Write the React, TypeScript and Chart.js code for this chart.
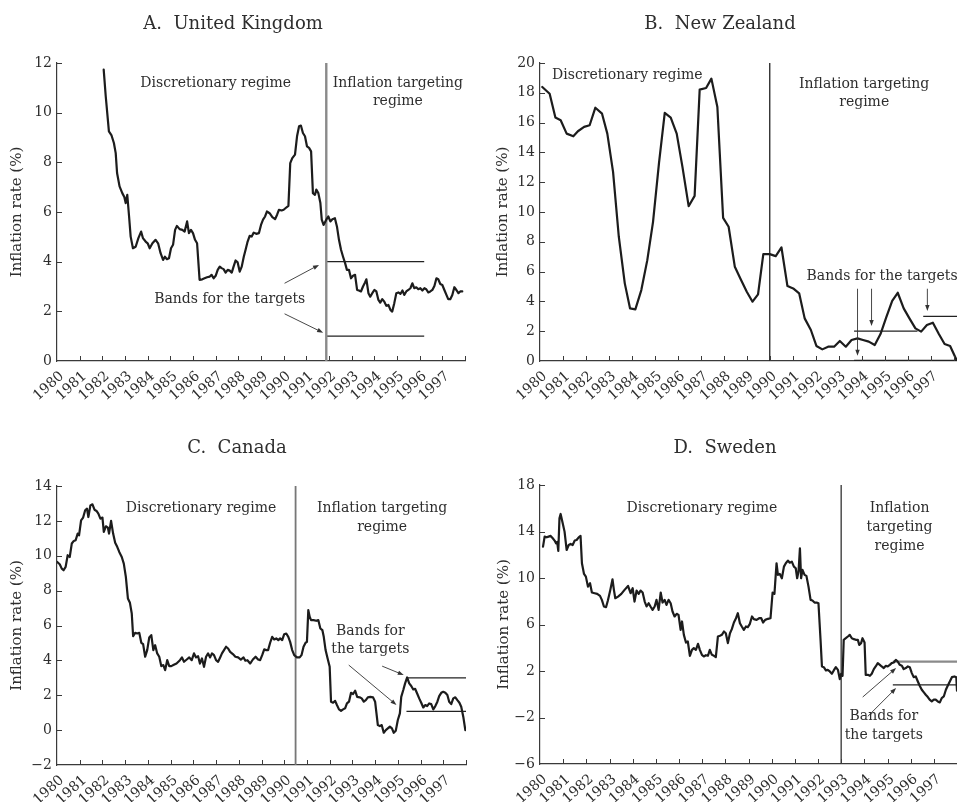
import React, { useEffect, useRef } from 'react';
import { Chart, registerables } from 'chart.js';

Chart.register(...registerables);

const FONT = '"DejaVu Serif", serif';
const INK = '#1c1c1c';
const TEXT = '#2e2e2e';
const AXIS = '#3a3a3a';

// ---------------- shared axis values ----------------
const yearTicks = [1980, 1981, 1982, 1983, 1984, 1985, 1986, 1987, 1988, 1989, 1990, 1991, 1992, 1993, 1994, 1995, 1996, 1997];
const yTitle = 'Inflation rate (%)';

// ---------------- A. United Kingdom ----------------
const ukYears = [
  1982.06, 1982.15, 1982.29, 1982.4, 1982.51, 1982.59, 1982.65, 1982.76, 1982.88, 1982.97,
  1983.03, 1983.1, 1983.18, 1983.25, 1983.35, 1983.47, 1983.59, 1983.71, 1983.79, 1983.91,
  1984.0, 1984.09, 1984.21, 1984.35, 1984.46, 1984.57, 1984.68, 1984.76, 1984.85, 1984.94,
  1985.03, 1985.12, 1985.21, 1985.29, 1985.41, 1985.53, 1985.63, 1985.74, 1985.82, 1985.91,
  1986.0, 1986.09, 1986.18, 1986.24, 1986.29, 1986.41, 1986.51, 1986.62, 1986.74, 1986.82,
  1986.91, 1987.0, 1987.09, 1987.18, 1987.26, 1987.35, 1987.44, 1987.53, 1987.62, 1987.71,
  1987.79, 1987.88, 1987.97, 1988.06, 1988.15, 1988.24, 1988.32, 1988.41, 1988.5, 1988.59,
  1988.68, 1988.79, 1988.91, 1989.0, 1989.09, 1989.18, 1989.26, 1989.38, 1989.5, 1989.62,
  1989.71, 1989.79, 1989.91, 1990.0, 1990.09, 1990.21, 1990.29, 1990.38, 1990.5, 1990.59,
  1990.68, 1990.76, 1990.85, 1990.94, 1991.03, 1991.12, 1991.21, 1991.29, 1991.38, 1991.44,
  1991.53, 1991.62, 1991.68, 1991.76, 1991.88, 1991.97, 1992.06, 1992.15, 1992.26, 1992.35,
  1992.44, 1992.53, 1992.62, 1992.71, 1992.79, 1992.88, 1992.97, 1993.06, 1993.15, 1993.24,
  1993.32, 1993.41, 1993.5, 1993.59, 1993.65, 1993.74, 1993.82, 1993.91, 1994.0, 1994.09,
  1994.18, 1994.26, 1994.35, 1994.44, 1994.53, 1994.62, 1994.71, 1994.79, 1994.88, 1994.97,
  1995.06, 1995.15, 1995.24, 1995.32, 1995.41, 1995.5, 1995.59, 1995.68, 1995.76, 1995.85,
  1995.94, 1996.03, 1996.12, 1996.21, 1996.29, 1996.38, 1996.47, 1996.56, 1996.65, 1996.74,
  1996.82, 1996.91, 1997.0, 1997.09, 1997.18, 1997.26, 1997.35, 1997.44, 1997.53, 1997.62,
  1997.71, 1997.79, 1997.88,
];
const ukRates = [
  11.73, 10.66, 9.25, 9.1, 8.78, 8.37, 7.57, 7.03, 6.76, 6.6,
  6.36, 6.69, 5.82, 5.01, 4.54, 4.6, 4.95, 5.21, 4.95, 4.81,
  4.74, 4.54, 4.74, 4.88, 4.74, 4.34, 4.07, 4.2, 4.1, 4.14,
  4.54, 4.68, 5.28, 5.44, 5.31, 5.28, 5.21, 5.62, 5.15, 5.28,
  5.15, 4.88, 4.74, 3.94, 3.27, 3.29, 3.33, 3.37, 3.4, 3.47,
  3.33, 3.43, 3.67, 3.8, 3.74, 3.7, 3.56, 3.67, 3.64, 3.56,
  3.8, 4.05, 3.97, 3.6, 3.8, 4.2, 4.48, 4.81, 5.04, 5.01,
  5.17, 5.12, 5.15, 5.48, 5.69, 5.82, 6.02, 5.95, 5.79, 5.71,
  5.89, 6.09, 6.06, 6.09, 6.16, 6.25, 7.97, 8.17, 8.31, 9.05,
  9.45, 9.48, 9.18, 9.05, 8.64, 8.58, 8.44, 6.76, 6.69, 6.9,
  6.76, 6.36, 5.69, 5.48, 5.69, 5.82, 5.62, 5.71, 5.75, 5.42,
  4.88, 4.48, 4.2, 3.94, 3.67, 3.67, 3.33, 3.43, 3.47, 2.86,
  2.84, 2.8, 3.0, 3.16, 3.29, 2.73, 2.59, 2.73, 2.86, 2.8,
  2.46, 2.35, 2.49, 2.39, 2.22, 2.26, 2.06, 1.99, 2.33, 2.73,
  2.76, 2.7, 2.84, 2.66, 2.8, 2.86, 2.93, 3.13, 2.93, 2.97,
  2.89, 2.93, 2.84, 2.93, 2.89, 2.76, 2.8, 2.86, 3.02, 3.33,
  3.29, 3.1, 3.06, 2.86, 2.66, 2.49, 2.49, 2.66, 2.97, 2.86,
  2.73, 2.8, 2.8,
];
const ukYTicks = [0, 2, 4, 6, 8, 10, 12];
const ukRegimeStart = 1991.88;
const ukBandLevels = [4, 1];
const ukBandSpan = [1991.9, 1996.2];

// ---------------- B. New Zealand ----------------
const nzYears = [
  1980.1, 1980.42, 1980.67, 1980.9, 1981.16, 1981.45, 1981.65, 1981.92, 1982.16, 1982.41,
  1982.7, 1982.93, 1983.18, 1983.43, 1983.69, 1983.92, 1984.15, 1984.41, 1984.67, 1984.92,
  1985.18, 1985.43, 1985.69, 1985.95, 1986.2, 1986.47, 1986.73, 1986.95, 1987.23, 1987.46,
  1987.72, 1987.97, 1988.21, 1988.48, 1988.72, 1989.0, 1989.25, 1989.49, 1989.72, 1990.0,
  1990.26, 1990.51, 1990.77, 1991.02, 1991.28, 1991.52, 1991.79, 1992.03, 1992.29, 1992.54,
  1992.8, 1993.05, 1993.31, 1993.56, 1993.82, 1994.06, 1994.31, 1994.57, 1994.82, 1995.07,
  1995.33, 1995.57, 1995.83, 1996.08, 1996.34, 1996.59, 1996.84, 1997.1, 1997.36, 1997.61,
  1997.85, 1998.15,
];
const nzRates = [
  18.39, 17.94, 16.34, 16.16, 15.26, 15.08, 15.42, 15.71, 15.82, 17.0,
  16.6, 15.26, 12.69, 8.34, 5.21, 3.53, 3.46, 4.76, 6.77, 9.34,
  13.3, 16.65, 16.34, 15.26, 13.03, 10.39, 11.08, 18.21, 18.32, 18.95,
  17.05, 9.61, 9.01, 6.32, 5.54, 4.65, 3.98, 4.47, 7.17, 7.17,
  7.04, 7.62, 5.03, 4.87, 4.54, 2.86, 2.08, 1.01, 0.78, 0.96,
  0.96, 1.34, 0.96, 1.41, 1.52, 1.41, 1.3, 1.07, 1.81, 2.93,
  4.04, 4.58, 3.53, 2.86, 2.19, 1.97, 2.41, 2.57, 1.81, 1.14,
  1.01, 0,
];
const nzYTicks = [0, 2, 4, 6, 8, 10, 12, 14, 16, 18, 20];
const nzRegimeStart = 1990.0;
const nzBandLevels = [0, 2, 3];
const nzBandSpans = [[1993.67, 1998.15], [1993.67, 1996.43], [1996.68, 1998.15]];

// ---------------- C. Canada ----------------
const caYears = [
  1980.0, 1980.12, 1980.21, 1980.29, 1980.38, 1980.47, 1980.56, 1980.65, 1980.74, 1980.82,
  1980.91, 1980.97, 1981.06, 1981.15, 1981.24, 1981.32, 1981.38, 1981.47, 1981.56, 1981.65,
  1981.74, 1981.82, 1981.91, 1982.0, 1982.06, 1982.15, 1982.24, 1982.29, 1982.38, 1982.47,
  1982.56, 1982.65, 1982.74, 1982.85, 1982.94, 1983.03, 1983.12, 1983.21, 1983.29, 1983.35,
  1983.44, 1983.53, 1983.62, 1983.71, 1983.79, 1983.88, 1983.97, 1984.06, 1984.15, 1984.24,
  1984.32, 1984.41, 1984.5, 1984.59, 1984.68, 1984.76, 1984.85, 1984.94, 1985.03, 1985.12,
  1985.26, 1985.41, 1985.5, 1985.59, 1985.71, 1985.82, 1985.93, 1986.03, 1986.12, 1986.21,
  1986.29, 1986.38, 1986.47, 1986.56, 1986.65, 1986.74, 1986.82, 1986.91, 1987.0, 1987.09,
  1987.18, 1987.26, 1987.35, 1987.44, 1987.53, 1987.62, 1987.74, 1987.85, 1987.97, 1988.09,
  1988.21, 1988.29, 1988.38, 1988.5, 1988.62, 1988.74, 1988.85, 1988.94, 1989.03, 1989.12,
  1989.21, 1989.29, 1989.38, 1989.47, 1989.56, 1989.65, 1989.74, 1989.82, 1989.91, 1990.0,
  1990.09, 1990.18, 1990.26, 1990.35, 1990.44, 1990.56, 1990.68, 1990.76, 1990.85, 1990.94,
  1991.0, 1991.06, 1991.12, 1991.18, 1991.29, 1991.41, 1991.5, 1991.59, 1991.68, 1991.74,
  1991.82, 1991.91, 1992.0, 1992.06, 1992.15, 1992.24, 1992.32, 1992.41, 1992.5, 1992.59,
  1992.68, 1992.76, 1992.85, 1992.94, 1993.03, 1993.12, 1993.21, 1993.32, 1993.41, 1993.5,
  1993.59, 1993.68, 1993.79, 1993.91, 1994.0, 1994.06, 1994.12, 1994.21, 1994.29, 1994.38,
  1994.47, 1994.56, 1994.65, 1994.74, 1994.82, 1994.91, 1995.0, 1995.09, 1995.15, 1995.24,
  1995.32, 1995.41, 1995.5, 1995.59, 1995.68, 1995.76, 1995.85, 1995.94, 1996.03, 1996.12,
  1996.21, 1996.29, 1996.38, 1996.47, 1996.56, 1996.65, 1996.74, 1996.82, 1996.91, 1997.0,
  1997.09, 1997.18, 1997.26, 1997.35, 1997.44, 1997.53, 1997.62, 1997.71, 1997.79, 1997.88,
  1997.97,
];
const caRates = [
  9.65, 9.51, 9.26, 9.17, 9.36, 10.03, 9.93, 10.7, 10.85, 10.89,
  11.27, 11.17, 12.03, 12.19, 12.61, 12.7, 12.22, 12.89, 12.95, 12.64,
  12.57, 12.42, 12.13, 12.19, 11.37, 11.69, 11.61, 11.27, 12.0, 11.27,
  10.74, 10.51, 10.22, 9.93, 9.55, 8.79, 7.55, 7.3, 6.69, 5.39,
  5.58, 5.54, 5.58, 5.01, 4.93, 4.21, 4.59, 5.31, 5.45, 4.59,
  4.87, 4.4, 4.21, 3.67, 3.73, 3.44, 4.01, 3.67, 3.67, 3.73,
  3.82, 4.01, 4.17, 3.92, 4.05, 4.17, 4.01, 4.4, 4.17, 4.24,
  3.82, 4.11, 3.63, 4.21, 4.4, 4.17, 4.4, 4.3, 4.01, 3.92,
  4.17, 4.4, 4.59, 4.78, 4.68, 4.49, 4.36, 4.21, 4.17, 4.05,
  4.17, 3.98, 4.01, 3.82, 4.05, 4.21, 4.05, 4.01, 4.3, 4.63,
  4.59, 4.59, 5.01, 5.35, 5.2, 5.26, 5.16, 5.26, 5.16, 5.5,
  5.54, 5.35, 5.06, 4.59, 4.3, 4.17, 4.17, 4.3, 4.78, 5.01,
  5.06, 6.88, 6.5, 6.31, 6.31, 6.27, 6.31, 5.83, 5.73, 5.35,
  4.59, 4.11, 3.63, 1.63, 1.57, 1.68, 1.44, 1.19, 1.11, 1.19,
  1.25, 1.53, 1.63, 2.14, 2.07, 2.26, 1.91, 1.88, 1.82, 1.63,
  1.72, 1.88, 1.91, 1.88, 1.63, 0.96, 0.29, 0.23, 0.29, -0.15,
  0.0, 0.1, 0.2, 0.1, -0.15, -0.03, 0.58, 0.96, 1.91, 2.3,
  2.68, 3.02, 2.68, 2.53, 2.33, 2.37, 2.1, 1.82, 1.57, 1.3,
  1.44, 1.38, 1.53, 1.49, 1.19, 1.38, 1.63, 1.95, 2.14, 2.2,
  2.14, 2.01, 1.63, 1.49, 1.82, 1.88, 1.72, 1.57, 1.34, 0.77,
  0.0,
];
const caYTicks = [-2, 0, 2, 4, 6, 8, 10, 12, 14];
const caRegimeStart = 1990.5;
const caBandLevels = [3, 1.08];
const caBandSpan = [1995.38, 1998.0];

// ---------------- D. Sweden ----------------
const seYears = [
  1980.13, 1980.2, 1980.29, 1980.37, 1980.46, 1980.55, 1980.63, 1980.69, 1980.74, 1980.79,
  1980.84, 1980.89, 1980.98, 1981.06, 1981.15, 1981.24, 1981.32, 1981.41, 1981.5, 1981.58,
  1981.67, 1981.75, 1981.81, 1981.9, 1981.98, 1982.07, 1982.16, 1982.24, 1982.36, 1982.47,
  1982.59, 1982.67, 1982.76, 1982.85, 1982.93, 1983.02, 1983.13, 1983.19, 1983.25, 1983.37,
  1983.51, 1983.65, 1983.8, 1983.91, 1984.0, 1984.08, 1984.17, 1984.26, 1984.34, 1984.43,
  1984.52, 1984.6, 1984.69, 1984.77, 1984.86, 1984.95, 1985.03, 1985.12, 1985.21, 1985.29,
  1985.38, 1985.46, 1985.55, 1985.64, 1985.72, 1985.81, 1985.9, 1985.98, 1986.07, 1986.13,
  1986.21, 1986.3, 1986.38, 1986.47, 1986.56, 1986.64, 1986.73, 1986.82, 1986.9, 1986.99,
  1987.07, 1987.16, 1987.25, 1987.33, 1987.42, 1987.51, 1987.59, 1987.68, 1987.77, 1987.85,
  1987.94, 1988.02, 1988.11, 1988.2, 1988.28, 1988.37, 1988.46, 1988.54, 1988.63, 1988.71,
  1988.8, 1988.89, 1988.97, 1989.06, 1989.15, 1989.23, 1989.35, 1989.46, 1989.55, 1989.63,
  1989.72, 1989.84, 1989.95, 1990.04, 1990.12, 1990.21, 1990.27, 1990.35, 1990.44, 1990.53,
  1990.61, 1990.7, 1990.78, 1990.87, 1990.96, 1991.04, 1991.1, 1991.16, 1991.22, 1991.27,
  1991.33, 1991.42, 1991.5, 1991.59, 1991.68, 1991.76, 1991.85, 1991.94, 1992.02, 1992.11,
  1992.17, 1992.25, 1992.34, 1992.42, 1992.51, 1992.6, 1992.68, 1992.77, 1992.86, 1992.94,
  1993.0, 1993.06, 1993.11, 1993.2, 1993.29, 1993.37, 1993.46, 1993.55, 1993.63, 1993.72,
  1993.78, 1993.86, 1993.92, 1994.01, 1994.06, 1994.15, 1994.24, 1994.32, 1994.41, 1994.49,
  1994.58, 1994.67, 1994.75, 1994.84, 1994.93, 1995.01, 1995.1, 1995.18, 1995.27, 1995.36,
  1995.44, 1995.53, 1995.62, 1995.7, 1995.79, 1995.88, 1995.96, 1996.05, 1996.13, 1996.22,
  1996.31, 1996.39, 1996.48, 1996.57, 1996.65, 1996.74, 1996.82, 1996.91, 1997.0, 1997.08,
  1997.17, 1997.26, 1997.34, 1997.43, 1997.52, 1997.6, 1997.69, 1997.78, 1997.89, 1997.97,
  1998.0,
];
const seRates = [
  12.7, 13.56, 13.5, 13.56, 13.62, 13.42, 13.22, 12.99, 13.1, 12.33,
  15.13, 15.51, 14.71, 13.99, 12.41, 12.84, 12.93, 12.84, 13.22, 13.27,
  13.5, 13.62, 11.27, 10.35, 10.12, 9.26, 9.55, 8.75, 8.69, 8.63,
  8.46, 8.12, 7.55, 7.49, 8.06, 8.83, 9.89, 8.98, 8.26, 8.4,
  8.63, 8.98, 9.32, 8.69, 9.12, 7.97, 8.92, 8.63, 8.92, 8.75,
  7.97, 7.55, 7.83, 7.55, 7.26, 7.55, 8.12, 7.26, 8.75, 7.89,
  8.12, 7.69, 8.12, 7.83, 7.12, 6.69, 6.92, 6.83, 5.54, 6.26,
  5.11, 4.45, 4.54, 3.31, 3.82, 3.97, 3.82, 4.34, 3.82, 3.39,
  3.25, 3.36, 3.31, 3.82, 3.39, 3.31, 3.19, 4.97, 5.03, 5.11,
  5.4, 5.25, 4.4, 5.25, 5.6, 6.17, 6.54, 6.97, 6.11, 5.83,
  5.54, 5.83, 5.77, 6.06, 6.69, 6.46, 6.4, 6.54, 6.54, 6.17,
  6.4, 6.49, 6.54, 8.75, 8.63, 11.27, 10.27, 10.35, 9.98, 10.98,
  11.27, 11.5, 11.32, 11.41, 10.98, 10.84, 9.98, 10.55, 12.56, 9.98,
  10.7, 10.27, 10.18, 9.26, 8.12, 8.06, 7.89, 7.89, 7.83, 4.68,
  2.39, 2.33, 2.05, 2.1, 1.96, 1.76, 2.05, 2.33, 2.1, 1.3,
  1.76, 1.59, 4.68, 4.82, 4.97, 5.11, 4.82, 4.74, 4.68, 4.68,
  4.25, 4.4, 4.82, 4.45, 1.67, 1.67, 1.59, 1.76, 2.16, 2.39,
  2.68, 2.53, 2.39, 2.25, 2.45, 2.39, 2.53, 2.68, 2.73, 2.96,
  2.82, 2.53, 2.45, 2.16, 2.25, 2.39, 2.33, 1.82, 1.47, 1.53,
  1.1, 0.73, 0.39, 0.16, -0.04, -0.24, -0.47, -0.62, -0.47, -0.47,
  -0.62, -0.7, -0.33, -0.19, 0.39, 0.73, 1.1, 1.47, 1.53, 1.47,
  0.3,
];
const seYTicks = [-6, -2, 2, 6, 10, 14, 18];
const seRegimeStart = 1993.0;
const seBandLevels = [2.8, 0.8];
const seBandSpan = [1995.23, 1998.0];

// ---------------- panel layout / annotation settings ----------------
type Band = { from: number; to: number; y: number; color: string; width: number };
type Panel = {
  id: string; title: string; titleX: number; titleY: number;
  left: number; top: number; width: number; height: number;
  plotTop: number; padRight: number; yAxisWidth: number; xAxisHeight: number; yTitlePad: number;
  xMax: number; yTicks: number[];
  years: number[]; rates: number[];
  regimeX: number; regimeColor: string; regimeWidth: number;
  bands: Band[];
  texts: [string, number, number][];
  arrows: [number, number, number, number][];
};

const panels: Panel[] = [
  {
    id: 'uk', title: 'A.  United Kingdom', titleX: 233, titleY: 29,
    left: 0, top: 0, width: 478, height: 410,
    plotTop: 63, padRight: 13, yAxisWidth: 57, xAxisHeight: 49, yTitlePad: 8,
    xMax: 1998, yTicks: ukYTicks, years: ukYears, rates: ukRates,
    regimeX: ukRegimeStart, regimeColor: '#8a8a8a', regimeWidth: 2.4,
    bands: ukBandLevels.map((y) => ({ from: ukBandSpan[0], to: ukBandSpan[1], y, color: '#222', width: 1.3 })),
    texts: [
      ['Discretionary regime', 1987.0, 11.03],
      ['Inflation targeting', 1995.04, 11.03],
      ['regime', 1995.04, 10.31],
      ['Bands for the targets', 1987.62, 2.33],
    ],
    arrows: [
      [1990.04, 3.13, 1991.56, 3.87],
      [1990.04, 1.9, 1991.74, 1.14],
    ],
  },
  {
    id: 'nz', title: 'B.  New Zealand', titleX: 242, titleY: 29,
    left: 478, top: 0, width: 479, height: 410,
    plotTop: 63, padRight: 0, yAxisWidth: 62, xAxisHeight: 49, yTitlePad: 16,
    xMax: 1998.15, yTicks: nzYTicks, years: nzYears, rates: nzRates,
    regimeX: nzRegimeStart, regimeColor: '#222', regimeWidth: 1.3,
    bands: [
      { from: nzBandSpans[0][0], to: nzBandSpans[0][1], y: nzBandLevels[0], color: '#222', width: 2.6 },
      { from: nzBandSpans[1][0], to: nzBandSpans[1][1], y: nzBandLevels[1], color: '#222', width: 1.3 },
      { from: nzBandSpans[2][0], to: nzBandSpans[2][1], y: nzBandLevels[2], color: '#222', width: 1.3 },
    ],
    texts: [
      ['Discretionary regime', 1983.8, 18.9],
      ['Inflation targeting', 1994.11, 18.35],
      ['regime', 1994.11, 17.14],
      ['Bands for the targets', 1994.89, 5.43],
    ],
    arrows: [
      [1993.82, 4.85, 1993.82, 0.35],
      [1994.43, 4.85, 1994.43, 2.35],
      [1996.86, 4.85, 1996.86, 3.35],
    ],
  },
  {
    id: 'ca', title: 'C.  Canada', titleX: 237, titleY: 43,
    left: 0, top: 410, width: 478, height: 392,
    plotTop: 76, padRight: 12, yAxisWidth: 57, xAxisHeight: 37, yTitlePad: 8,
    xMax: 1998, yTicks: caYTicks, years: caYears, rates: caRates,
    regimeX: caRegimeStart, regimeColor: '#777', regimeWidth: 1.8,
    bands: caBandLevels.map((y) => ({ from: caBandSpan[0], to: caBandSpan[1], y, color: '#222', width: 1.3 })),
    texts: [
      ['Discretionary regime', 1986.34, 12.51],
      ['Inflation targeting', 1994.31, 12.51],
      ['regime', 1994.31, 11.42],
      ['Bands for', 1993.79, 5.45],
      ['the targets', 1993.79, 4.4],
    ],
    arrows: [
      [1992.84, 3.73, 1994.94, 1.44],
      [1994.31, 3.67, 1995.26, 3.16],
    ],
  },
  {
    id: 'se', title: 'D.  Sweden', titleX: 247, titleY: 43,
    left: 478, top: 410, width: 479, height: 392,
    plotTop: 75, padRight: 0, yAxisWidth: 62, xAxisHeight: 38, yTitlePad: 17,
    xMax: 1998, yTicks: seYTicks, years: seYears, rates: seRates,
    regimeX: seRegimeStart, regimeColor: '#333', regimeWidth: 1.3,
    bands: [
      { from: seBandSpan[0], to: seBandSpan[1], y: seBandLevels[0], color: '#8a8a8a', width: 2.2 },
      { from: seBandSpan[0], to: seBandSpan[1], y: seBandLevels[1], color: '#222', width: 1.3 },
    ],
    texts: [
      ['Discretionary regime', 1986.99, 15.71],
      ['Inflation', 1995.52, 15.71],
      ['targeting', 1995.52, 14.05],
      ['regime', 1995.52, 12.41],
      ['Bands for', 1994.84, -2.19],
      ['the targets', 1994.84, -3.82],
    ],
    arrows: [
      [1993.93, -0.24, 1995.37, 2.25],
      [1994.15, -1.9, 1995.37, 0.53],
    ],
  },
];

function overlayPlugin(p: Panel) {
  return {
    id: 'overlay_' + p.id,
    afterDraw(chart: any) {
      const ctx: CanvasRenderingContext2D = chart.ctx;
      const xs = chart.scales.x;
      const ys = chart.scales.y;
      ctx.save();
      // inward tick marks
      ctx.strokeStyle = AXIS;
      ctx.lineWidth = 1;
      const xt = [...yearTicks, 1998];
      for (const v of xt) {
        if (v <= 1980 || v > p.xMax) continue;
        const px = Math.round(xs.getPixelForValue(v)) + 0.5;
        ctx.beginPath();
        ctx.moveTo(px, ys.bottom);
        ctx.lineTo(px, ys.bottom - 5);
        ctx.stroke();
      }
      for (const v of p.yTicks) {
        if (v === p.yTicks[0]) continue;
        const py = Math.round(ys.getPixelForValue(v)) + 0.5;
        ctx.beginPath();
        ctx.moveTo(xs.left, py);
        ctx.lineTo(xs.left + 5, py);
        ctx.stroke();
      }
      // panel title
      ctx.fillStyle = TEXT;
      ctx.textAlign = 'center';
      ctx.textBaseline = 'alphabetic';
      ctx.font = `18px ${FONT}`;
      ctx.fillText(p.title, p.titleX, p.titleY);
      // annotation texts
      ctx.font = `14px ${FONT}`;
      for (const [s, x, y] of p.texts) {
        ctx.fillText(s, xs.getPixelForValue(x), ys.getPixelForValue(y));
      }
      // arrows
      ctx.strokeStyle = '#333';
      ctx.fillStyle = '#333';
      ctx.lineWidth = 0.9;
      for (const [x1, y1, x2, y2] of p.arrows) {
        const X1 = xs.getPixelForValue(x1), Y1 = ys.getPixelForValue(y1);
        const X2 = xs.getPixelForValue(x2), Y2 = ys.getPixelForValue(y2);
        const a = Math.atan2(Y2 - Y1, X2 - X1);
        const hl = 6, hw = 2.2;
        ctx.beginPath();
        ctx.moveTo(X1, Y1);
        ctx.lineTo(X2 - Math.cos(a) * hl * 0.8, Y2 - Math.sin(a) * hl * 0.8);
        ctx.stroke();
        ctx.beginPath();
        ctx.moveTo(X2, Y2);
        ctx.lineTo(X2 - Math.cos(a) * hl - Math.sin(a) * hw, Y2 - Math.sin(a) * hl + Math.cos(a) * hw);
        ctx.lineTo(X2 - Math.cos(a) * hl + Math.sin(a) * hw, Y2 - Math.sin(a) * hl - Math.cos(a) * hw);
        ctx.closePath();
        ctx.fill();
      }
      ctx.restore();
    },
  };
}

function PanelChart({ p }: { p: Panel }) {
  const ref = useRef<HTMLCanvasElement | null>(null);
  useEffect(() => {
    if (!ref.current) return;
    const yMin = p.yTicks[0];
    const yMax = p.yTicks[p.yTicks.length - 1];
    const series = p.years.map((x, i) => ({ x, y: p.rates[i] }));
    const datasets: any[] = [
      {
        data: series, borderColor: INK, borderWidth: 2.2, pointRadius: 0, tension: 0,
        borderJoinStyle: 'round', borderCapStyle: 'round',
      },
      {
        data: [{ x: p.regimeX, y: yMin }, { x: p.regimeX, y: yMax }],
        borderColor: p.regimeColor, borderWidth: p.regimeWidth, pointRadius: 0,
      },
      ...p.bands.map((b) => ({
        data: [{ x: b.from, y: b.y }, { x: b.to, y: b.y }],
        borderColor: b.color, borderWidth: b.width, pointRadius: 0,
      })),
    ];
    const chart = new Chart(ref.current, {
      type: 'line',
      data: { datasets },
      options: {
        responsive: false,
        animation: false,
        events: [],
        parsing: false as any,
        normalized: true,
        layout: { padding: { top: p.plotTop, right: p.padRight, left: 0, bottom: 0 } },
        plugins: { legend: { display: false }, tooltip: { enabled: false }, title: { display: false } },
        scales: {
          x: {
            type: 'linear', min: 1980, max: p.xMax,
            afterFit: (s: any) => { s.height = p.xAxisHeight; },
            afterBuildTicks: (s: any) => { s.ticks = yearTicks.map((v) => ({ value: v })); },
            grid: { display: false, drawTicks: false },
            border: { display: true, color: AXIS, width: 1.2 },
            ticks: {
              autoSkip: false, minRotation: 42, maxRotation: 42, padding: 7, labelOffset: 5, color: TEXT,
              font: { family: FONT, size: 14 },
              callback: (v: any) => String(v),
            },
          },
          y: {
            type: 'linear', min: yMin, max: yMax,
            afterFit: (s: any) => { s.width = p.yAxisWidth; },
            afterBuildTicks: (s: any) => { s.ticks = p.yTicks.map((v) => ({ value: v })); },
            grid: { display: false, drawTicks: false },
            border: { display: true, color: AXIS, width: 1.2 },
            ticks: {
              padding: 5, color: TEXT, font: { family: FONT, size: 14 },
              callback: (v: any) => String(v).replace('-', '\u2212'),
            },
            title: {
              display: true, text: yTitle, color: TEXT,
              font: { family: FONT, size: 15 }, padding: { top: p.yTitlePad, bottom: 0 },
            },
          },
        },
      },
      plugins: [overlayPlugin(p)],
    } as any);
    return () => chart.destroy();
  }, [p]);
  return (
    <canvas
      ref={ref}
      width={p.width}
      height={p.height}
      style={{ position: 'absolute', left: p.left, top: p.top, width: p.width, height: p.height }}
    />
  );
}

export default function App() {
  return (
    <div style={{ position: 'absolute', left: 0, top: 0, width: 957, height: 802, background: '#fff', overflow: 'hidden' }}>
      {panels.map((p) => (
        <PanelChart key={p.id} p={p} />
      ))}
    </div>
  );
}
